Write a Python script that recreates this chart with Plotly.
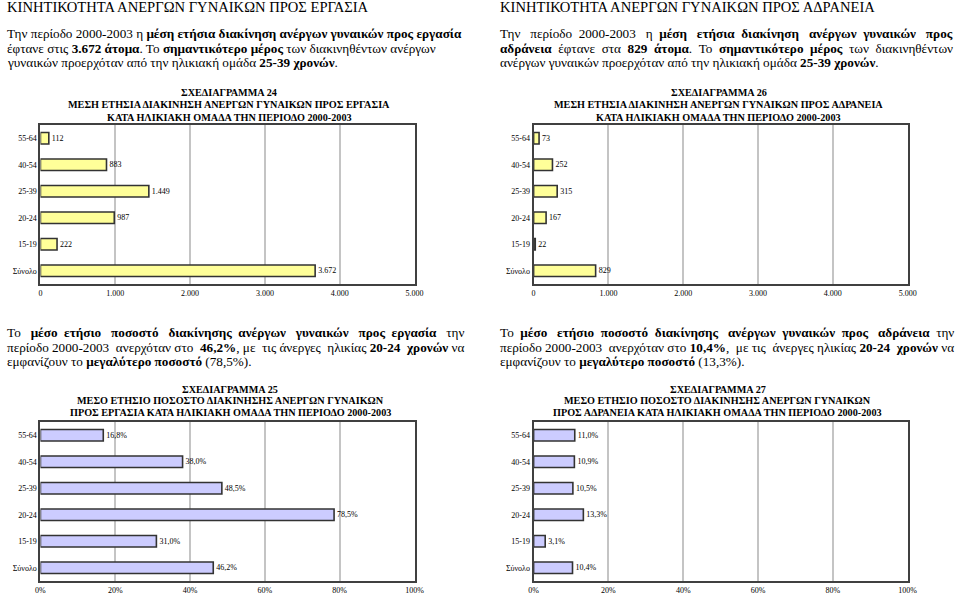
import plotly.graph_objects as go

# ---------------- data ----------------
categories = ["55-64", "40-54", "25-39", "20-24", "15-19", "Σύνολο"]
to_work_count = [112, 883, 1449, 987, 222, 3672]
to_inactive_count = [73, 252, 315, 167, 22, 829]
to_work_pct = [16.8, 38.0, 48.5, 78.5, 31.0, 46.2]
to_inactive_pct = [11.0, 10.9, 10.5, 13.3, 3.1, 10.4]

count_ticks = [0, 1000, 2000, 3000, 4000, 5000]
pct_ticks = [0, 20, 40, 60, 80, 100]

title_24 = ["ΣΧΕΔΙΑΓΡΑΜΜΑ 24",
            "ΜΕΣΗ ΕΤΗΣΙΑ ΔΙΑΚΙΝΗΣΗ ΑΝΕΡΓΩΝ ΓΥΝΑΙΚΩΝ ΠΡΟΣ ΕΡΓΑΣΙΑ",
            "ΚΑΤΑ ΗΛΙΚΙΑΚΗ ΟΜΑΔΑ ΤΗΝ ΠΕΡΙΟΔΟ 2000-2003"]
title_26 = ["ΣΧΕΔΙΑΓΡΑΜΜΑ 26",
            "ΜΕΣΗ ΕΤΗΣΙΑ ΔΙΑΚΙΝΗΣΗ ΑΝΕΡΓΩΝ ΓΥΝΑΙΚΩΝ ΠΡΟΣ ΑΔΡΑΝΕΙΑ",
            "ΚΑΤΑ ΗΛΙΚΙΑΚΗ ΟΜΑΔΑ ΤΗΝ ΠΕΡΙΟΔΟ 2000-2003"]
title_25 = ["ΣΧΕΔΙΑΓΡΑΜΜΑ 25",
            "ΜΕΣΟ ΕΤΗΣΙΟ ΠΟΣΟΣΤΟ ΔΙΑΚΙΝΗΣΗΣ ΑΝΕΡΓΩΝ ΓΥΝΑΙΚΩΝ",
            "ΠΡΟΣ ΕΡΓΑΣΙΑ ΚΑΤΑ ΗΛΙΚΙΑΚΗ ΟΜΑΔΑ ΤΗΝ ΠΕΡΙΟΔΟ 2000-2003"]
title_27 = ["ΣΧΕΔΙΑΓΡΑΜΜΑ 27",
            "ΜΕΣΟ ΕΤΗΣΙΟ ΠΟΣΟΣΤΟ ΔΙΑΚΙΝΗΣΗΣ ΑΝΕΡΓΩΝ ΓΥΝΑΙΚΩΝ",
            "ΠΡΟΣ ΑΔΡΑΝΕΙΑ ΚΑΤΑ ΗΛΙΚΙΑΚΗ ΟΜΑΔΑ ΤΗΝ ΠΕΡΙΟΔΟ 2000-2003"]

heading_left = "ΚΙΝΗΤΙΚΟΤΗΤΑ ΑΝΕΡΓΩΝ ΓΥΝΑΙΚΩΝ ΠΡΟΣ ΕΡΓΑΣΙΑ"
heading_right = "ΚΙΝΗΤΙΚΟΤΗΤΑ ΑΝΕΡΓΩΝ ΓΥΝΑΙΚΩΝ ΠΡΟΣ ΑΔΡΑΝΕΙΑ"

para_top_left = [
    "Την περίοδο 2000-2003 η <b>μέση ετήσια διακίνηση ανέργων γυναικών προς εργασία</b>",
    "έφτανε στις <b>3.672 άτομα</b>. Το <b>σημαντικότερο μέρος</b> των διακινηθέντων ανέργων",
    "γυναικών προερχόταν από την ηλικιακή ομάδα <b>25-39 χρονών</b>.",
]
para_top_right = [
    "Την περίοδο 2000-2003 η <b>μέση ετήσια διακίνηση ανέργων γυναικών προς</b>",
    "<b>αδράνεια</b> έφτανε στα <b>829 άτομα</b>. Το <b>σημαντικότερο μέρος</b> των διακινηθέντων",
    "ανέργων γυναικών προερχόταν από την ηλικιακή ομάδα <b>25-39 χρονών</b>.",
]
para_bot_left = [
    "Το <b>μέσο ετήσιο ποσοστό διακίνησης ανέργων γυναικών προς εργασία</b> την",
    "περίοδο 2000-2003 ανερχόταν στο <b>46,2%</b>, με τις άνεργες ηλικίας <b>20-24 χρονών</b> να",
    "εμφανίζουν το <b>μεγαλύτερο ποσοστό</b> (78,5%).",
]
para_bot_right = [
    "Το <b>μέσο ετήσιο ποσοστό διακίνησης ανέργων γυναικών προς αδράνεια</b> την",
    "περίοδο 2000-2003 ανερχόταν στο <b>10,4%</b>, με τις άνεργες ηλικίας <b>20-24 χρονών</b> να",
    "εμφανίζουν το <b>μεγαλύτερο ποσοστό</b> (13,3%).",
]

# ---------------- layout / style (not data) ----------------
W, H = 960, 595
FONT = "Liberation Serif"
YELLOW = "#FFFF99"
LAVENDER = "#CCCCFF"
EDGE = "#333333"
PARA_SIZE = 13.2
# extra non-breaking spaces used to emulate the justified lines of the text
JUSTIFY_EXTRA = {
    "tl": [0, 0, 0],
    "tr": [14, 9, 0],
    "bl": [15, 5, 0],
    "br": [12, 4, 0],
}


def fx(x):
    return x / W


def fy(y):
    return 1 - y / H


def justify(line, extra):
    """Spread `extra` non-breaking spaces evenly over the word gaps."""
    if extra <= 0:
        return line
    parts = line.split(" ")
    gaps = len(parts) - 1
    out = parts[0]
    acc = 0.0
    given = 0
    for i in range(1, len(parts)):
        acc += extra / gaps
        n = int(round(acc)) - given
        given += n
        out += " " + "\u00a0" * n + parts[i]
    return out


fig = go.Figure()

panels = [
    # (axis suffix, x0, x1, y_top, y_bottom, values, colour, kind)
    ("", 36, 416, 125, 284, to_work_count, YELLOW, "count"),
    ("2", 537, 917, 125, 284, to_inactive_count, YELLOW, "count"),
    ("3", 36, 416, 422, 581, to_work_pct, LAVENDER, "pct"),
    ("4", 537, 917, 422, 581, to_inactive_pct, LAVENDER, "pct"),
]

layout_axes = {}
for suf, x0, x1, yt, yb, vals, col, kind in panels:
    fig.add_trace(go.Bar(
        orientation="h",
        y=categories,
        x=vals,
        xaxis="x" + suf,
        yaxis="y" + suf,
        width=0.43,
        marker=dict(color=col, line=dict(color=EDGE, width=1.6)),
        texttemplate="%{x:,d}" if kind == "count" else "%{x:.1f}%",
        textposition="outside",
        constraintext="none",
        cliponaxis=False,
        textfont=dict(family=FONT, size=8, color="#000000"),
        outsidetextfont=dict(family=FONT, size=8, color="#000000"),
        hoverinfo="skip",
    ))
    if kind == "count":
        tv = count_ticks
        tt = [format(v, ",d").replace(",", ".") for v in count_ticks]
        rng = [0, 5000]
    else:
        tv = pct_ticks
        tt = ["%d%%" % v for v in pct_ticks]
        rng = [0, 100]
    xa = dict(
        domain=[fx(x0), fx(x1)],
        anchor="y" + suf,
        range=rng,
        tickvals=tv,
        ticktext=tt,
        showgrid=True,
        gridcolor="#c4c4c4",
        gridwidth=1.5,
        zeroline=False,
        showline=True,
        mirror=True,
        linecolor="#404040",
        linewidth=2,
        ticks="",
        tickfont=dict(family=FONT, size=8, color="#000000"),
        fixedrange=True,
    )
    ya = dict(
        domain=[fy(yb), fy(yt)],
        anchor="x" + suf,
        type="category",
        categoryorder="array",
        categoryarray=categories,
        autorange="reversed",
        showgrid=False,
        zeroline=False,
        showline=True,
        mirror=True,
        linecolor="#404040",
        linewidth=2,
        ticks="",
        tickfont=dict(family=FONT, size=8, color="#000000"),
        fixedrange=True,
    )
    layout_axes["xaxis" + suf] = xa
    layout_axes["yaxis" + suf] = ya

annotations = []


def text(x, y, s, size, anchor="left", bold=False):
    annotations.append(dict(
        xref="paper", yref="paper", x=fx(x), y=fy(y),
        xanchor=anchor, yanchor="middle",
        text=("<b>%s</b>" % s) if bold else s,
        showarrow=False,
        font=dict(family=FONT, size=size, color="#000000"),
        borderpad=0,
    ))


# headings
text(1, 7, heading_left, 14.6)
text(502, 7, heading_right, 14.6)

# paragraphs
for key, lines, x0, y0 in [("tl", para_top_left, 1, 33),
                           ("tr", para_top_right, 502, 33),
                           ("bl", para_bot_left, 1, 332),
                           ("br", para_bot_right, 502, 332)]:
    for i, line in enumerate(lines):
        text(x0, y0 + i * 15, justify(line, JUSTIFY_EXTRA[key][i]), PARA_SIZE)

# chart titles
for i, line in enumerate(title_24):
    text(228, 92 + i * 12.7, line, 10.2, anchor="center", bold=True)
for i, line in enumerate(title_26):
    text(725, 92 + i * 12.7, line, 10.2, anchor="center", bold=True)
for i, line in enumerate(title_25):
    text(229, 389 + i * 11.7, line, 10.2, anchor="center", bold=True)
for i, line in enumerate(title_27):
    text(724, 389 + i * 11.7, line, 10.2, anchor="center", bold=True)

fig.update_layout(
    width=W,
    height=H,
    margin=dict(l=0, r=0, t=0, b=0),
    paper_bgcolor="#ffffff",
    plot_bgcolor="#ffffff",
    showlegend=False,
    separators=",.",
    font=dict(family=FONT, color="#000000"),
    annotations=annotations,
    bargap=0.5,
    **layout_axes,
)

fig.write_html(
    "out.html",
    config={"displayModeBar": False},
    post_script="document.body.style.margin='0';document.body.style.padding='0';",
)
